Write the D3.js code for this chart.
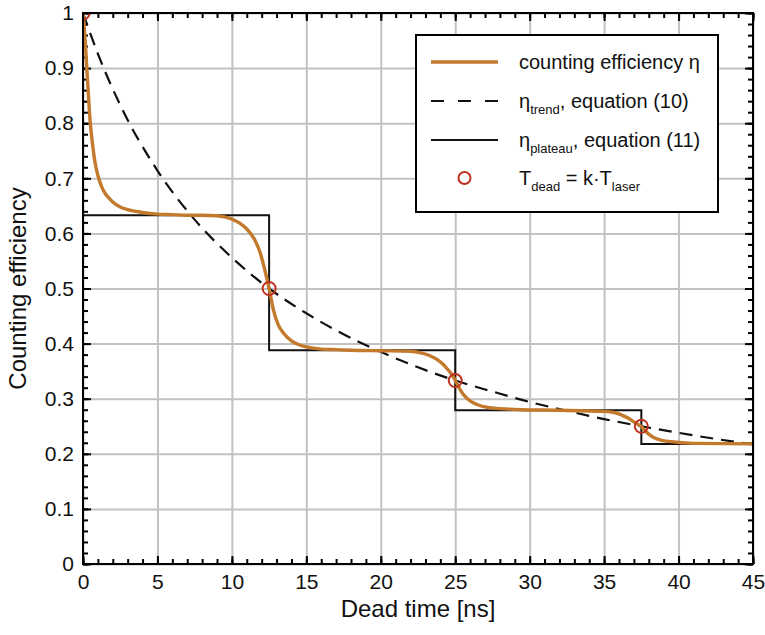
<!DOCTYPE html>
<html>
<head>
<meta charset="utf-8">
<script src="https://cdn.jsdelivr.net/npm/d3@7"></script>
<style>
  body { margin: 0; background: #fff; }
  text { font-family: "Liberation Sans", Arial, Helvetica, sans-serif; fill: #111; }
</style>
</head>
<body>
<script>
// values
const xTicks = [0, 5, 10, 15, 20, 25, 30, 35, 40, 45];
const xTickLabels = ["0", "5", "10", "15", "20", "25", "30", "35", "40", "45"];
const yTicks = [0, 0.1, 0.2, 0.3, 0.4, 0.5, 0.6, 0.7, 0.8, 0.9, 1];
const yTickLabels = ["0", "0.1", "0.2", "0.3", "0.4", "0.5", "0.6", "0.7", "0.8", "0.9", "1"];

// counting efficiency eta (orange curve)
const effT = [0, 0.08, 0.16, 0.3, 0.49, 0.65, 0.8, 1.0, 1.25, 1.5, 1.75, 2, 2.5, 3, 4, 5, 6, 7, 8, 9, 9.5, 10, 10.5, 11, 11.5, 11.9, 12.2, 12.5, 12.8, 13.1, 13.5, 14, 14.5, 15, 16, 17, 18, 20, 22, 22.7, 23.3, 23.8, 24.2, 24.5, 24.8, 25, 25.3, 25.6, 26, 26.5, 27.2, 28, 29.4, 32, 35, 35.7, 36.2, 36.6, 37.0, 37.5, 37.9, 38.3, 38.8, 39.5, 41, 45];
const effV = [1.0, 0.975, 0.945, 0.88, 0.80, 0.76, 0.73, 0.705, 0.685, 0.672, 0.664, 0.657, 0.648, 0.643, 0.638, 0.635, 0.634, 0.633, 0.633, 0.632, 0.630, 0.626, 0.619, 0.608, 0.590, 0.565, 0.535, 0.5, 0.46, 0.435, 0.418, 0.405, 0.398, 0.394, 0.390, 0.389, 0.388, 0.387, 0.386, 0.383, 0.378, 0.371, 0.362, 0.353, 0.343, 0.333, 0.318, 0.306, 0.296, 0.289, 0.284, 0.282, 0.280, 0.279, 0.277, 0.275, 0.270, 0.265, 0.258, 0.249, 0.238, 0.230, 0.225, 0.222, 0.219, 0.218];

// eta_trend, equation (10) (dashed)
const trendT = [0, 1, 2.5, 5, 7.5, 10, 12.5, 15, 17.5, 20, 22.5, 25, 27.5, 30, 32.5, 35, 37.5, 40, 42.5, 45];
const trendV = [1.0, 0.926, 0.833, 0.714, 0.625, 0.556, 0.5, 0.455, 0.417, 0.385, 0.357, 0.333, 0.313, 0.294, 0.278, 0.263, 0.25, 0.238, 0.227, 0.217];

// eta_plateau, equation (11) (step)
const plateauEdges = [0, 12.5, 25, 37.5, 45];
const plateauV = [0.633, 0.388, 0.279, 0.218];

// T_dead = k * T_laser markers
const markT = [0, 12.5, 25, 37.5];
const markV = [1.0, 0.5, 0.333, 0.25];

const W = 765, H = 635;
const margin = { top: 13, right: 12, bottom: 71, left: 83 };
const w = W - margin.left - margin.right;
const h = H - margin.top - margin.bottom;

const svg = d3.select("body").append("svg")
  .attr("width", W)
  .attr("height", H);

const g = svg.append("g")
  .attr("transform", `translate(${margin.left},${margin.top})`);

const x = d3.scaleLinear().domain([0, 45]).range([0, w]);
const y = d3.scaleLinear().domain([0, 1]).range([h, 0]);

g.append("defs").append("clipPath").attr("id", "clip")
  .append("rect").attr("width", w).attr("height", h);

// grid
g.append("g")
  .attr("transform", `translate(0,${h})`)
  .call(d3.axisBottom(x).tickValues(xTicks).tickSize(-h).tickFormat(""))
  .call(a => a.select(".domain").remove())
  .selectAll("line").attr("stroke", "#c2c2c2").attr("stroke-width", 2);

g.append("g")
  .call(d3.axisLeft(y).tickValues(yTicks).tickSize(-w).tickFormat(""))
  .call(a => a.select(".domain").remove())
  .selectAll("line").attr("stroke", "#c2c2c2").attr("stroke-width", 2);

// inward ticks, all four sides
function ticks(axis, tr, vals, len) {
  g.append("g")
    .attr("transform", tr)
    .call(axis.tickValues(vals).tickSize(-len).tickFormat(""))
    .call(a => a.select(".domain").remove())
    .selectAll("line").attr("stroke", "#000").attr("stroke-width", 2);
}
const xMinor = d3.range(0, 46, 1);
const yMinor = d3.range(0, 51, 1).map(d => d / 50);
ticks(d3.axisBottom(x), `translate(0,${h})`, xMinor, 5);
ticks(d3.axisTop(x), "translate(0,0)", xMinor, 5);
ticks(d3.axisLeft(y), "translate(0,0)", yMinor, 5);
ticks(d3.axisRight(y), `translate(${w},0)`, yMinor, 5);
ticks(d3.axisBottom(x), `translate(0,${h})`, xTicks, 8);
ticks(d3.axisTop(x), "translate(0,0)", xTicks, 8);
ticks(d3.axisLeft(y), "translate(0,0)", yTicks, 8);
ticks(d3.axisRight(y), `translate(${w},0)`, yTicks, 8);

// tick labels
g.append("g")
  .attr("transform", `translate(0,${h})`)
  .call(d3.axisBottom(x).tickValues(xTicks).tickSize(0).tickPadding(10)
    .tickFormat((d, i) => xTickLabels[i]))
  .call(a => a.select(".domain").remove())
  .selectAll("text").attr("font-size", 21).attr("fill", "#111");

g.append("g")
  .call(d3.axisLeft(y).tickValues(yTicks).tickSize(0).tickPadding(9)
    .tickFormat((d, i) => yTickLabels[i]))
  .call(a => a.select(".domain").remove())
  .selectAll("text").attr("font-size", 21).attr("fill", "#111");

// axis titles
g.append("text")
  .attr("x", w / 2)
  .attr("y", h + 53)
  .attr("text-anchor", "middle")
  .attr("font-size", 24)
  .text("Dead time [ns]");

g.append("text")
  .attr("transform", `translate(${-57},${h / 2}) rotate(-90)`)
  .attr("text-anchor", "middle")
  .attr("font-size", 24)
  .text("Counting efficiency");

const plot = g.append("g").attr("clip-path", "url(#clip)");

// trend (dashed)
const trendLine = d3.line().x(d => x(d[0])).y(d => y(d[1])).curve(d3.curveMonotoneX);
plot.append("path")
  .datum(trendT.map((t, i) => [t, trendV[i]]))
  .attr("d", trendLine)
  .attr("fill", "none")
  .attr("stroke", "#111")
  .attr("stroke-width", 2.2)
  .attr("stroke-dasharray", "13,8");

// plateau steps
const stepPts = plateauV.map((v, i) => [plateauEdges[i], v]);
stepPts.push([plateauEdges[plateauEdges.length - 1], plateauV[plateauV.length - 1]]);
plot.append("path")
  .datum(stepPts)
  .attr("d", d3.line().x(d => x(d[0])).y(d => y(d[1])).curve(d3.curveStepAfter))
  .attr("fill", "none")
  .attr("stroke", "#111")
  .attr("stroke-width", 2);

// efficiency curve
plot.append("path")
  .datum(effT.map((t, i) => [t, effV[i]]))
  .attr("d", d3.line().x(d => x(d[0])).y(d => y(d[1])).curve(d3.curveMonotoneX))
  .attr("fill", "none")
  .attr("stroke", "#c47a2c")
  .attr("stroke-width", 3.4);

// markers
plot.selectAll("circle.mark")
  .data(markT.map((t, i) => [t, markV[i]]))
  .enter().append("circle")
  .attr("class", "mark")
  .attr("cx", d => x(d[0]))
  .attr("cy", d => y(d[1]))
  .attr("r", 6.5)
  .attr("fill", "none")
  .attr("stroke", "#c0301f")
  .attr("stroke-width", 2);

// frame
g.append("rect")
  .attr("width", w).attr("height", h)
  .attr("fill", "none").attr("stroke", "#000").attr("stroke-width", 2);

// legend
const lg = svg.append("g").attr("transform", "translate(416,35)");
lg.append("rect")
  .attr("width", 302).attr("height", 177)
  .attr("fill", "#fff").attr("stroke", "#000").attr("stroke-width", 2);

const rowY = [27, 66, 105, 143];
const lx0 = 15, lx1 = 82, tx = 103;

lg.append("line").attr("x1", lx0).attr("x2", lx1).attr("y1", rowY[0]).attr("y2", rowY[0])
  .attr("stroke", "#c47a2c").attr("stroke-width", 3.4);
lg.append("line").attr("x1", lx0).attr("x2", lx1).attr("y1", rowY[1]).attr("y2", rowY[1])
  .attr("stroke", "#111").attr("stroke-width", 2.2).attr("stroke-dasharray", "13,14");
lg.append("line").attr("x1", lx0).attr("x2", lx1).attr("y1", rowY[2]).attr("y2", rowY[2])
  .attr("stroke", "#111").attr("stroke-width", 2);
lg.append("circle").attr("cx", (lx0 + lx1) / 2).attr("cy", rowY[3]).attr("r", 6)
  .attr("fill", "none").attr("stroke", "#c0301f").attr("stroke-width", 2);

function legendText(row, parts) {
  const t = lg.append("text").attr("x", tx).attr("y", rowY[row] + 7).attr("font-size", 20);
  parts.forEach(p => {
    const s = t.append("tspan").text(p[0]);
    if (p[1] === "sub") s.attr("font-size", 13).attr("dy", 6);
    if (p[1] === "up") s.attr("dy", -6);
  });
}
legendText(0, [["counting efficiency η"]]);
legendText(1, [["η"], ["trend", "sub"], [", equation (10)", "up"]]);
legendText(2, [["η"], ["plateau", "sub"], [", equation (11)", "up"]]);
legendText(3, [["T"], ["dead", "sub"], [" = k·T", "up"], ["laser", "sub"]]);
</script>
</body>
</html>
